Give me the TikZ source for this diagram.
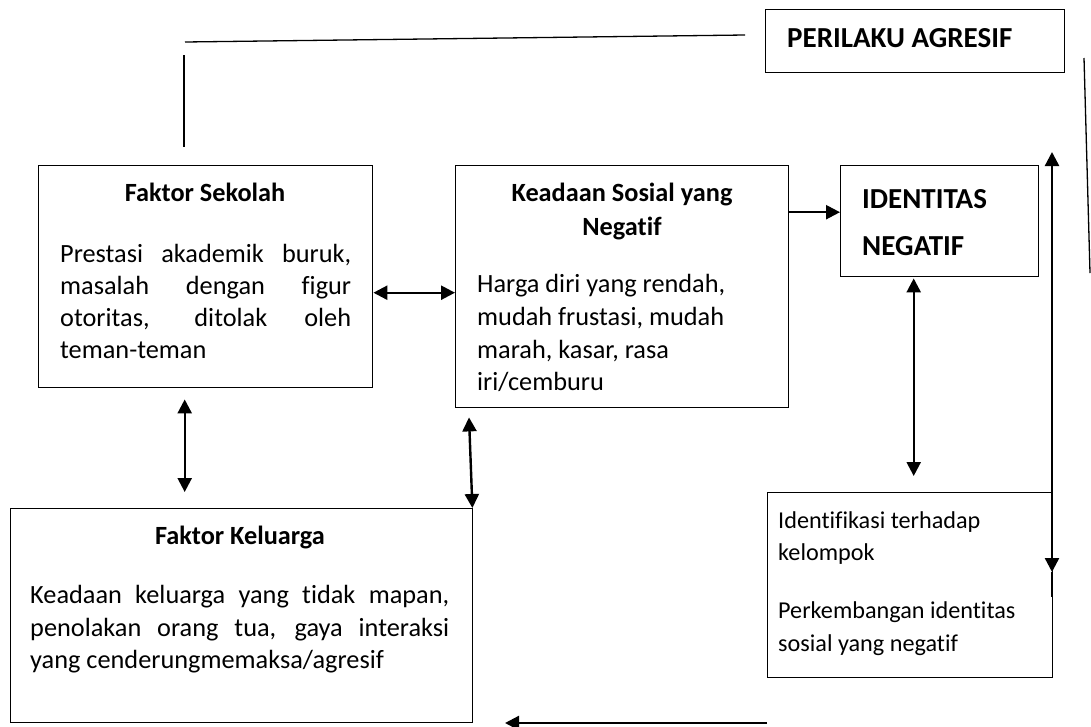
\documentclass[tikz,border=0pt]{standalone}
\usepackage{fontspec}
\setmainfont{Carlito}[Ligatures=NoCommon]
\usetikzlibrary{arrows.meta}
\begin{document}
\begin{tikzpicture}[x=1pt,y=-1pt,
  box/.style={draw, line width=1.4pt, inner sep=0pt, anchor=north west},
  txt/.style={inner sep=0pt, anchor=base west, font=\fontsize{26.3}{32}\selectfont},
  stxt/.style={inner sep=0pt, anchor=base west, font=\fontsize{24.2}{32}\selectfont},
  ttl/.style={inner sep=0pt, anchor=base, font=\fontsize{26.3}{32}\selectfont\bfseries},
  big/.style={inner sep=0pt, anchor=base west, font=\fontsize{29}{32}\selectfont\bfseries},
  dbl/.style={line width=2.4pt, {Triangle[width=14pt,length=14pt]}-{Triangle[width=14pt,length=14pt]}},
  arr/.style={line width=2.4pt, -{Triangle[width=14pt,length=14pt]}},
  thin/.style={line width=1.3pt}]
\useasboundingbox (0,0) rectangle (1091,726);
% boxes
\node[box, minimum width=299pt, minimum height=63pt] (per) at (765,9) {};
\node[box, minimum width=334pt, minimum height=222pt] (sek) at (38,165) {};
\node[box, minimum width=333pt, minimum height=242pt] (kea) at (455,165) {};
\node[box, minimum width=198pt, minimum height=111pt] (ide) at (840,165) {};
\node[box, minimum width=462pt, minimum height=214pt] (kel) at (10,508) {};
\node[box, minimum width=285pt, minimum height=185pt] (idf) at (767,492) {};
% texts
\node[big] (tper) at (787,47) {PERILAKU AGRESIF};
\node[ttl] (tsek) at (205,201) {Faktor Sekolah};
\node[txt] (s1) at (60,262) {\makebox[291pt][s]{Prestasi akademik buruk,}};
\node[txt] (s2) at (60,294) {\makebox[291pt][s]{masalah dengan figur}};
\node[txt] (s3) at (60,326) {\makebox[291pt][s]{otoritas, ditolak oleh}};
\node[txt] (s4) at (60,358) {teman-teman};
\node[ttl] (tkea1) at (622,201) {Keadaan Sosial yang};
\node[ttl] (tkea2) at (622,235) {Negatif};
\node[txt] (k1) at (477,292) {Harga diri yang rendah,};
\node[txt] (k2) at (477,325) {mudah frustasi, mudah};
\node[txt] (k3) at (477,358) {marah, kasar, rasa};
\node[txt] (k4) at (477,390) {iri/cemburu};
\node[big] (tide1) at (862,208) {IDENTITAS};
\node[big] (tide2) at (862,255) {NEGATIF};
\node[ttl] (tkel) at (240,544) {Faktor Keluarga};
\node[txt] (l1) at (30,603) {\makebox[419pt][s]{Keadaan keluarga yang tidak mapan,}};
\node[txt] (l2) at (30,636) {\makebox[419pt][s]{penolakan orang tua, gaya interaksi}};
\node[txt] (l3) at (30,668) {yang cenderungmemaksa/agresif};
\node[stxt] (i1) at (778,528) {Identifikasi terhadap};
\node[stxt] (i2) at (778,560) {kelompok};
\node[stxt] (i3) at (778,618) {Perkembangan identitas};
\node[stxt] (i4) at (778,651) {sosial yang negatif};
% free ends
\coordinate (topL) at (185,42);
\coordinate (topR) at (745,35);
\coordinate (vl1) at (184,55);
\coordinate (vl2) at (184,147);
\coordinate (rs1) at (1084,58);
\coordinate (rs2) at (1090,273);
\coordinate (vtop) at (1052,152);
\coordinate (vtip) at (1052,572);
\coordinate (vbot) at (1052,597);
\coordinate (btip) at (505,723);
% connectors
\draw[thin] (topL) -- (topR);
\draw[thin] (vl1) -- (vl2);
\draw[thin] (rs1) -- (rs2);
\draw[dbl] ([yshift=-16pt]sek.east) -- ([yshift=-16pt]sek.east -| kea.west);
\draw[arr] ([yshift=9pt]ide.west -| kea.east) -- ([yshift=9pt]ide.west);
\draw[dbl] ([xshift=-21pt,yshift=-11pt]sek.south) -- ([xshift=-21pt,yshift=16pt]sek.south |- kel.north);
\draw[dbl] ([xshift=14pt,yshift=-9pt]kea.south west) -- ([xshift=-1pt]kel.north east);
\draw[dbl] ([xshift=-26pt,yshift=-1pt]ide.south) -- ([xshift=-26pt,yshift=16pt]ide.south |- idf.north);
\draw[dbl] (vtop) -- (vtip);
\draw[line width=1.4pt] (vtip) -- (vbot);
\draw[arr] (idf.south west |- btip) -- (btip);
\end{tikzpicture}
\end{document}
